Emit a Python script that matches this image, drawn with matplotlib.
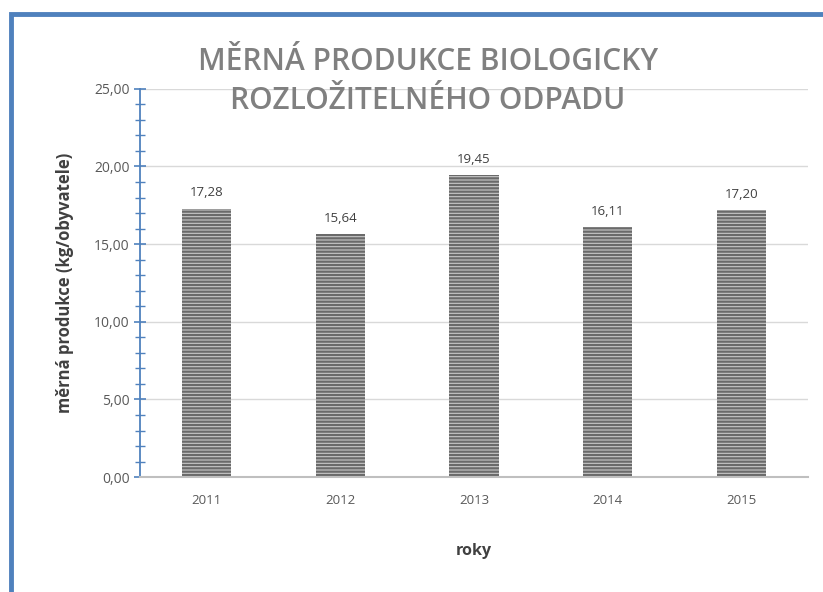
import matplotlib.pyplot as plt
from matplotlib.patches import Rectangle
from matplotlib.ticker import MultipleLocator, FuncFormatter

plt.rcParams['font.family'] = ['Open Sans', 'DejaVu Sans']
plt.rcParams['hatch.linewidth'] = 1.6

# data
roky = ['2011', '2012', '2013', '2014', '2015']
produkce = [17.28, 15.64, 19.45, 16.11, 17.20]
popisky = ['17,28', '15,64', '19,45', '16,11', '17,20']

fig = plt.figure(figsize=(8.23, 5.92), dpi=100)
ax = fig.add_axes([0.170, 0.194, 0.812, 0.656])

# blue frame around the chart
fig.patches.append(Rectangle((0.013, -0.05), 1.05, 1.026, transform=fig.transFigure,
                             fill=False, edgecolor='#4f81bd', linewidth=3.5))

x = range(len(roky))
bars = ax.bar(x, produkce, width=0.37, color='#c8c8c8', edgecolor='#6a6a6a',
              hatch='-----', linewidth=0, zorder=3)
for i, v in enumerate(produkce):
    ax.text(i, v + 0.6, popisky[i], ha='center', va='bottom', fontsize=9.5, color='#404040')

ax.set_xlim(-0.5, len(roky) - 0.5)
ax.set_ylim(0, 25)
ax.set_xticks(list(x))
ax.set_xticklabels(roky, fontsize=9.5, color='#595959')
ax.tick_params(axis='x', length=0, pad=12)

ax.yaxis.set_major_locator(MultipleLocator(5))
ax.yaxis.set_minor_locator(MultipleLocator(1))
ax.yaxis.set_major_formatter(FuncFormatter(lambda v, p: ('%.2f' % v).replace('.', ',')))
ax.tick_params(axis='y', which='major', direction='inout', length=9, width=1.2,
               color='#4f81bd', labelsize=10, labelcolor='#595959', pad=3)
ax.tick_params(axis='y', which='minor', direction='inout', length=7, width=1,
               color='#4f81bd')

ax.grid(axis='y', color='#d9d9d9', linewidth=1, zorder=0)
ax.spines['top'].set_visible(False)
ax.spines['right'].set_visible(False)
ax.spines['left'].set_color('#4f81bd')
ax.spines['left'].set_linewidth(1.3)
ax.spines['bottom'].set_color('#bfbfbf')
ax.spines['bottom'].set_linewidth(1.5)
ax.spines['bottom'].set_zorder(4)

ax.set_ylabel('měrná produkce (kg/obyvatele)', fontsize=12, fontweight='bold',
              color='#404040', labelpad=14)
ax.set_xlabel('roky', fontsize=11.5, fontweight='bold', color='#404040', labelpad=26)

fig.text(0.52, 0.862, 'MĚRNÁ PRODUKCE BIOLOGICKY\nROZLOŽITELNÉHO ODPADU',
         ha='center', va='center', fontsize=21.5, fontweight='semibold', color='#808080',
         linespacing=1.4)

fig.savefig('out.png', dpi=100)
